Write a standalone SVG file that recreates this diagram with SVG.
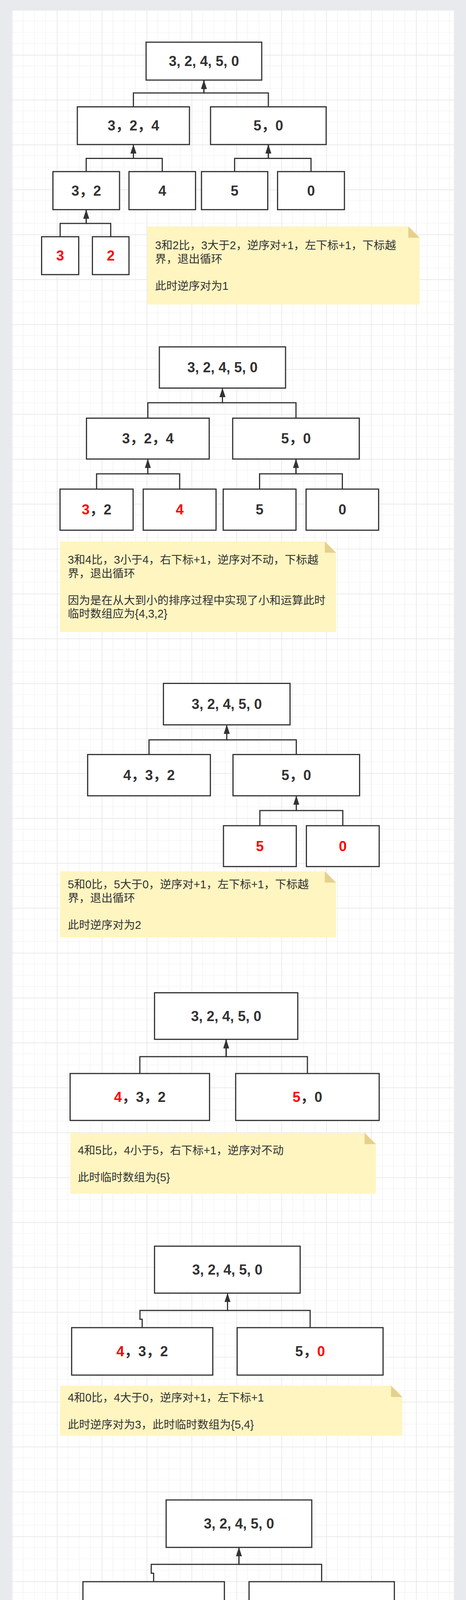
<svg xmlns="http://www.w3.org/2000/svg" width="1193" height="5233" viewBox="0 0 1193 5233">
<defs>
<pattern id="grid" x="30.5" y="25.3" width="114.94" height="114.94" patternUnits="userSpaceOnUse">
<path d="M28.735,0 V114.94 M57.47,0 V114.94 M86.205,0 V114.94 M0,28.735 H114.94 M0,57.47 H114.94 M0,86.205 H114.94" stroke="#f0f0f0" stroke-width="1.2" fill="none"/>
<path d="M0.75,0 V114.94 M0,0.75 H114.94" stroke="#e4e4e4" stroke-width="1.5" fill="none"/>
</pattern>
<marker id="arr" markerUnits="userSpaceOnUse" markerWidth="24" markerHeight="16" refX="23" refY="7.5" orient="auto">
<path d="M0,0 L23,7.5 L0,15 Z" fill="#333"/>
</marker>
<style>
.box{fill:#fff;stroke:#333;stroke-width:3}
.bt{font-family:"Liberation Sans","Noto Sans CJK SC",sans-serif;font-weight:bold;font-size:36px;fill:#333;text-anchor:middle}
.r{fill:#ff0000}
.edge{fill:none;stroke:#333;stroke-width:3;marker-end:url(#arr)}
.note{fill:#fff5c1}
.fold{fill:#e5d18b}
.nt{font-family:"Liberation Sans","Noto Sans CJK SC",sans-serif;font-size:28.7px;fill:#333}
</style>
</defs>
<rect x="0" y="0" width="1193" height="5233" fill="#e9eaed"/>
<rect x="30" y="26" width="1132" height="5168" fill="#fff"/>
<rect x="30" y="26" width="1132" height="5168" fill="url(#grid)"/>

<g id="connectors">
<path class="edge" d="M154,606 V572 H220.7 V536.7"/>
<path class="edge" d="M283.4,606 V572 H220.7 V536.7"/>
<path class="edge" d="M220.7,439.3 V405.6 H341.5 V370"/>
<path class="edge" d="M415.4,439.3 V405.6 H341.5 V370"/>
<path class="edge" d="M600.6,439.3 V405.6 H687 V370"/>
<path class="edge" d="M796.2,439.3 V405.6 H687 V370"/>
<path class="edge" d="M341.5,273.5 V238 H522 V205"/>
<path class="edge" d="M687,273.5 V238 H522 V205"/>

<path class="edge" d="M247.25,1252.1 V1213.1 H378.5 V1175.1"/>
<path class="edge" d="M459.9,1252.1 V1213.1 H378.5 V1175.1"/>
<path class="edge" d="M664.6,1252.1 V1213.1 H757.75 V1175.1"/>
<path class="edge" d="M876.45,1252.1 V1213.1 H757.75 V1175.1"/>
<path class="edge" d="M378.5,1070.5 V1030.9 H569.5 V993.5"/>
<path class="edge" d="M757.75,1070.5 V1030.9 H569.5 V993.5"/>

<path class="edge" d="M665.3,2113.8 V2075 H758.5 V2037.2"/>
<path class="edge" d="M877.6,2113.8 V2075 H758.5 V2037.2"/>
<path class="edge" d="M381.5,1931.6 V1893.9 H580.5 V1855.6"/>
<path class="edge" d="M758.5,1931.6 V1893.9 H580.5 V1855.6"/>

<path class="edge" d="M358,2748.2 V2704.9 H579 V2660.7"/>
<path class="edge" d="M787,2748.2 V2704.9 H579 V2660.7"/>

<path class="edge" d="M364,3398.8 V3377.2 H358.3 V3354.8 H582.5 V3310.4"/>
<path class="edge" d="M794,3398.8 V3354.8 H582.5 V3310.4"/>

<path class="edge" d="M393.3,4049.1 V4027.4 H387.2 V4004.8 H611.7 V3961.3"/>
<path class="edge" d="M823.4,4049.1 V4004.8 H611.7 V3961.3"/>

<path class="edge" d="M393.3,4674 V4652.8 H387.2 V4629.5 H611.7 V4585.4"/>
<path class="edge" d="M823.4,4674 V4629.5 H611.7 V4585.4"/>
</g>

<!-- Section 1 -->
<g id="s1-top"><rect class="box" x="374" y="108" width="296" height="97"/><text class="bt" x="522" y="169">3, 2, 4, 5, 0</text></g>
<g id="s1-ml"><rect class="box" x="198" y="273.5" width="287" height="96.5"/><text class="bt" x="341.5" y="334.3">3，2，4</text></g>
<g id="s1-mr"><rect class="box" x="539" y="273.5" width="296" height="96.5"/><text class="bt" x="687" y="334.3">5，0</text></g>
<g id="s1-b1"><rect class="box" x="135.5" y="439.3" width="170.5" height="97.4"/><text class="bt" x="220.7" y="500.5">3，2</text></g>
<g id="s1-b2"><rect class="box" x="330.2" y="439.3" width="170.4" height="97.4"/><text class="bt" x="415.4" y="500.5">4</text></g>
<g id="s1-b3"><rect class="box" x="515.8" y="439.3" width="169.7" height="97.4"/><text class="bt" x="600.6" y="500.5">5</text></g>
<g id="s1-b4"><rect class="box" x="710.6" y="439.3" width="171.2" height="97.4"/><text class="bt" x="796.2" y="500.5">0</text></g>
<g id="s1-l1"><rect class="box" x="106.5" y="606" width="95" height="97"/><text class="bt r" x="154" y="667">3</text></g>
<g id="s1-l2"><rect class="box" x="236.6" y="606" width="93.6" height="97"/><text class="bt r" x="283.4" y="667">2</text></g>
<g id="s1-note"><path class="note" d="M377.4,579.6 H1045.3 L1074.3,608.6 V779.6 H377.4 Z"/><path class="fold" d="M1045.3,579.6 V608.6 H1074.3 Z"/>
<text class="nt" x="397" y="638.3">3和2比，3大于2，逆序对+1，左下标+1，下标越</text>
<text class="nt" x="397" y="672.8">界，退出循环</text>
<text class="nt" x="397" y="741.8">此时逆序对为1</text></g>

<!-- Section 2 -->
<g id="s2-top"><rect class="box" x="408" y="888" width="323" height="105.5"/><text class="bt" x="569.5" y="953.3">3, 2, 4, 5, 0</text></g>
<g id="s2-ml"><rect class="box" x="221.4" y="1070.5" width="314.2" height="104.6"/><text class="bt" x="378.5" y="1135.3">3，2，4</text></g>
<g id="s2-mr"><rect class="box" x="595.7" y="1070.5" width="324.1" height="104.6"/><text class="bt" x="757.75" y="1135.3">5，0</text></g>
<g id="s2-b1"><rect class="box" x="153.7" y="1252.1" width="187.1" height="105.2"/><text class="bt" x="247.25" y="1317.2"><tspan class="r">3</tspan>，2</text></g>
<g id="s2-b2"><rect class="box" x="366.7" y="1252.1" width="186.4" height="105.2"/><text class="bt r" x="459.9" y="1317.2">4</text></g>
<g id="s2-b3"><rect class="box" x="571.4" y="1252.1" width="186.4" height="105.2"/><text class="bt" x="664.6" y="1317.2">5</text></g>
<g id="s2-b4"><rect class="box" x="783.6" y="1252.1" width="185.7" height="105.2"/><text class="bt" x="876.45" y="1317.2">0</text></g>
<g id="s2-note"><path class="note" d="M153.7,1386 H831.5 L860.5,1415 V1618 H153.7 Z"/><path class="fold" d="M831.5,1386 V1415 H860.5 Z"/>
<text class="nt" x="173.5" y="1443">3和4比，3小于4，右下标+1，逆序对不动，下标越</text>
<text class="nt" x="173.5" y="1477.5">界，退出循环</text>
<text class="nt" x="173.5" y="1546.5">因为是在从大到小的排序过程中实现了小和运算此时</text>
<text class="nt" x="173.5" y="1581">临时数组应为{4,3,2}</text></g>

<!-- Section 3 -->
<g id="s3-top"><rect class="box" x="418.4" y="1749.5" width="324.1" height="106.1"/><text class="bt" x="580.45" y="1815">3, 2, 4, 5, 0</text></g>
<g id="s3-ml"><rect class="box" x="224.4" y="1931.6" width="314.2" height="105.6"/><text class="bt" x="381.5" y="1996.9">4，3，2</text></g>
<g id="s3-mr"><rect class="box" x="596.5" y="1931.6" width="324.1" height="105.6"/><text class="bt" x="758.55" y="1996.9">5，0</text></g>
<g id="s3-b1"><rect class="box" x="572.1" y="2113.8" width="186.4" height="104.6"/><text class="bt r" x="665.3" y="2178.6">5</text></g>
<g id="s3-b2"><rect class="box" x="784.4" y="2113.8" width="186.4" height="104.6"/><text class="bt r" x="877.6" y="2178.6">0</text></g>
<g id="s3-note"><path class="note" d="M153.7,2230.6 H831.5 L860.5,2259.6 V2400 H153.7 Z"/><path class="fold" d="M831.5,2230.6 V2259.6 H860.5 Z"/>
<text class="nt" x="173.5" y="2274.3">5和0比，5大于0，逆序对+1，左下标+1，下标越</text>
<text class="nt" x="173.5" y="2308.8">界，退出循环</text>
<text class="nt" x="173.5" y="2377.8">此时逆序对为2</text></g>

<!-- Section 4 -->
<g id="s4-top"><rect class="box" x="395.6" y="2541.5" width="366.7" height="119.2"/><text class="bt" x="578.95" y="2613.6">3, 2, 4, 5, 0</text></g>
<g id="s4-ml"><rect class="box" x="179.5" y="2748.2" width="356.9" height="120.1"/><text class="bt" x="357.95" y="2820.75"><tspan class="r">4</tspan>，3，2</text></g>
<g id="s4-mr"><rect class="box" x="603.3" y="2748.2" width="367.5" height="120.1"/><text class="bt" x="787.05" y="2820.75"><tspan class="r">5</tspan>，0</text></g>
<g id="s4-note"><path class="note" d="M180.3,2900 H933.4 L962.4,2929 V3055.8 H180.3 Z"/><path class="fold" d="M933.4,2900 V2929 H962.4 Z"/>
<text class="nt" x="199.3" y="2954.5">4和5比，4小于5，右下标+1，逆序对不动</text>
<text class="nt" x="199.3" y="3023.5">此时临时数组为{5}</text></g>

<!-- Section 5 -->
<g id="s5-top"><rect class="box" x="395.6" y="3190.2" width="372.8" height="120.2"/><text class="bt" x="582" y="3262.8">3, 2, 4, 5, 0</text></g>
<g id="s5-ml"><rect class="box" x="183.4" y="3398.8" width="361.3" height="121.4"/><text class="bt" x="364.05" y="3472"><tspan class="r">4</tspan>，3，2</text></g>
<g id="s5-mr"><rect class="box" x="607.1" y="3398.8" width="373.6" height="121.4"/><text class="bt" x="793.9" y="3472">5，<tspan class="r">0</tspan></text></g>
<g id="s5-note"><path class="note" d="M153.7,3547.2 H1001.1 L1030.1,3576.2 V3675.7 H153.7 Z"/><path class="fold" d="M1001.1,3547.2 V3576.2 H1030.1 Z"/>
<text class="nt" x="173.5" y="3587.5">4和0比，4大于0，逆序对+1，左下标+1</text>
<text class="nt" x="173.5" y="3657">此时逆序对为3，此时临时数组为{5,4}</text></g>

<!-- Section 6 -->
<g id="s6-top"><rect class="box" x="425.3" y="3839.9" width="372.8" height="121.4"/><text class="bt" x="611.7" y="3913.1">3, 2, 4, 5, 0</text></g>
<g id="s6-ml"><rect class="box" x="212.3" y="4049.1" width="362.1" height="121.4"/><text class="bt" x="393.35" y="4122.3">4，<tspan class="r">3</tspan>，2</text></g>
<g id="s6-mr"><rect class="box" x="637.6" y="4049.1" width="372" height="121.4"/><text class="bt" x="823.6" y="4122.3">5，<tspan class="r">0</tspan></text></g>
<g id="s6-note"><path class="note" d="M184.1,4196.6 H1030.8 L1059.8,4225.6 V4325.1 H184.1 Z"/><path class="fold" d="M1030.8,4196.6 V4225.6 H1059.8 Z"/>
<text class="nt" x="202.4" y="4237.5">3和0比，3大于0，逆序对+1，左下标+1</text>
<text class="nt" x="202.4" y="4307">此时逆序对为4，此时临时数组为{5,4,3}</text></g>

<!-- Section 7 -->
<g id="s7-top"><rect class="box" x="425.3" y="4464.1" width="372.8" height="121.3"/><text class="bt" x="611.7" y="4537.25">3, 2, 4, 5, 0</text></g>
<g id="s7-ml"><rect class="box" x="212.3" y="4674" width="362.1" height="119.3"/><text class="bt" x="393.35" y="4746.15">4，3，<tspan class="r">2</tspan></text></g>
<g id="s7-mr"><rect class="box" x="637.6" y="4674" width="372" height="119.3"/><text class="bt" x="823.6" y="4746.15">5，<tspan class="r">0</tspan></text></g>
<g id="s7-note"><path class="note" d="M184.1,4820.3 H1030.8 L1059.8,4849.3 V4949.9 H184.1 Z"/><path class="fold" d="M1030.8,4820.3 V4849.3 H1059.8 Z"/>
<text class="nt" x="202.4" y="4861">2和0比，2大于0，逆序对+1，左下标+1，下标越界，退出循环</text>
<text class="nt" x="202.4" y="4930.5">此时逆序对为2，此时临时数组为{5,4,3,2,0}</text></g>
</svg>
